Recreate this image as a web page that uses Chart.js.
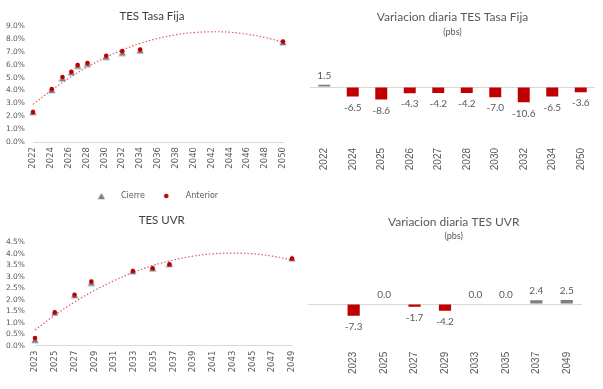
<!DOCTYPE html>
<html>
<head>
<meta charset="utf-8">
<script src="https://cdn.jsdelivr.net/npm/chart.js@4"></script>
<style>
  html, body { margin: 0; padding: 0; background: #ffffff; }
  body { width: 603px; height: 389px; position: relative; overflow: hidden; }
  canvas { position: absolute; }
</style>
</head>
<body>
<canvas id="tl" width="304" height="210" style="left:0;top:0"></canvas>
<canvas id="tr" width="303" height="200" style="left:300px;top:0"></canvas>
<canvas id="bl" width="324" height="189" style="left:0;top:200px"></canvas>
<canvas id="br" width="303" height="189" style="left:300px;top:200px"></canvas>
<script>
// ---------- data ----------
const tfYears = [2022.0, 2024.1, 2025.3, 2026.3, 2027.0, 2028.1, 2030.2, 2032.0, 2034.0, 2050.0];
const tfCierre = [2.34, 4.04, 4.95, 5.41, 5.93, 6.09, 6.62, 6.94, 7.11, 7.75];
const tfAnterior = [2.32, 4.10, 5.04, 5.45, 5.97, 6.13, 6.69, 7.05, 7.17, 7.79];
const tfTrendYears = [2022, 2024, 2026, 2028, 2030, 2032, 2034, 2036, 2038, 2040, 2042, 2044, 2046, 2048, 2050];
const tfTrend = [2.92, 3.98, 4.94, 5.79, 6.52, 7.14, 7.65, 8.04, 8.32, 8.49, 8.55, 8.52, 8.36, 8.10, 7.75];

const uvrYears = [2023.0, 2025.0, 2027.0, 2028.7, 2032.9, 2034.9, 2036.6, 2049.0];
const uvrCierre = [0.26, 1.45, 2.20, 2.75, 3.25, 3.37, 3.56, 3.81];
const uvrAnterior = [0.33, 1.45, 2.22, 2.79, 3.25, 3.37, 3.54, 3.79];
const uvrTrendYears = [2023, 2025, 2027, 2029, 2031, 2033, 2035, 2037, 2039, 2041, 2043, 2045, 2047, 2049];
const uvrTrend = [0.68, 1.33, 1.90, 2.40, 2.83, 3.20, 3.50, 3.73, 3.90, 4.00, 4.03, 4.00, 3.90, 3.73];

const tfVarCategories = ['2022', '2024', '2025', '2026', '2027', '2028', '2030', '2032', '2034', '2050'];
const tfVar = [1.5, -6.5, -8.6, -4.3, -4.2, -4.2, -7.0, -10.6, -6.5, -3.6];
const uvrVarCategories = ['', '2023', '2025', '2027', '2029', '2033', '2035', '2037', '2049'];
const uvrVar = [null, -7.3, 0.0, -1.7, -4.2, 0.0, 0.0, 2.4, 2.5];

const seriesNames = ['Cierre', 'Anterior'];
const titles = ['TES Tasa Fija', 'Variacion diaria TES Tasa Fija', 'TES UVR', 'Variacion diaria TES UVR'];
const subtitleText = '(pbs)';

// ---------- styles ----------
const RED = '#c00000';
const GRAY = '#7f7f7f';
const TREND = '#e05c5c';
const TXT = '#595959';
const AXIS = '#d9d9d9';

const zip = (xs, ys) => xs.map((x, i) => ({x: x, y: ys[i]}));

function markerImage(kind) {
  const c = document.createElement('canvas');
  if (kind === 'triangle') {
    c.width = 8; c.height = 8;
    const g = c.getContext('2d');
    g.fillStyle = GRAY;
    g.beginPath(); g.moveTo(4, 1); g.lineTo(7.6, 7.3); g.lineTo(0.4, 7.3); g.closePath(); g.fill();
  } else {
    c.width = 6; c.height = 6;
    const g = c.getContext('2d');
    g.fillStyle = RED;
    g.beginPath(); g.arc(3, 3, 2.3, 0, Math.PI * 2); g.fill();
  }
  return c;
}
const triImg = markerImage('triangle');
const dotImg = markerImage('circle');

function gapAxis(w) {
  return {
    position: 'right', display: true,
    afterFit: s => { s.width = w; },
    border: {display: false},
    grid: {display: false, drawTicks: false},
    ticks: {display: false}
  };
}

function scatterConfig(o) {
  const ds = [
    {label: seriesNames[1], data: zip(o.years, o.anterior), pointStyle: 'circle', pointRadius: 2.3,
     backgroundColor: RED, borderColor: RED, borderWidth: 0, showLine: false, order: 0, clip: false},
    {label: seriesNames[0], data: zip(o.years, o.cierre), pointStyle: triImg, pointRadius: 4,
     backgroundColor: GRAY, borderColor: GRAY, borderWidth: 0, showLine: false, order: 1, clip: false},
    {type: 'line', label: 'trend', data: zip(o.trendYears, o.trend), borderColor: TREND, borderWidth: 1.2,
     borderDash: [1.5, 2], pointRadius: 0, tension: 0.4, fill: false, order: 2, clip: false}
  ];
  return {
    type: 'scatter',
    data: {datasets: ds},
    options: {
      responsive: false, animation: false, devicePixelRatio: 1,
      layout: {padding: o.padding},
      plugins: {
        tooltip: {enabled: false},
        title: {display: true, text: o.title, color: '#404040', font: {family: 'Lato', size: 11.5, weight: 'normal'},
                padding: o.titlePad},
        legend: o.legend ? {
          display: true, position: 'bottom',
          labels: {
            usePointStyle: true, pointStyleWidth: 31, padding: 6, color: TXT,
            font: {family: 'DejaVu Sans', size: 8},
            generateLabels: () => [
              {text: seriesNames[0], pointStyle: triImg, fillStyle: GRAY, strokeStyle: GRAY, lineWidth: 0, hidden: false, datasetIndex: 1, fontColor: TXT},
              {text: seriesNames[1], pointStyle: dotImg, fillStyle: RED, strokeStyle: RED, lineWidth: 0, hidden: false, datasetIndex: 0, fontColor: TXT}
            ]
          }
        } : {display: false}
      },
      scales: {
        x: {
          type: 'linear', min: o.xmin, max: o.xmax,
          afterFit: s => { s.height = o.xh; },
          grid: {display: false, drawTicks: false},
          border: {display: true, color: AXIS, width: 1},
          ticks: {stepSize: 2, minRotation: 90, maxRotation: 90, autoSkip: false, padding: 5,
                  color: TXT, font: {family: 'DejaVu Sans', size: 8.5},
                  callback: v => String(v)}
        },
        y: {
          min: 0, max: o.ymax,
          afterFit: s => { s.width = o.yw; },
          grid: {display: false, drawTicks: false},
          border: {display: false},
          ticks: {stepSize: o.ystep, autoSkip: false, padding: o.ypad, color: TXT,
                  font: {family: 'DejaVu Sans', size: 7.5},
                  callback: v => v.toFixed(1) + '%'}
        },
        y2: gapAxis(o.rightGap)
      }
    }
  };
}

const barLabels = {
  id: 'barLabels',
  afterDatasetsDraw(chart) {
    const ctx = chart.ctx;
    const meta = chart.getDatasetMeta(0);
    const vals = chart.data.datasets[0].data;
    ctx.save();
    ctx.font = '10px Lato';
    ctx.fillStyle = TXT;
    ctx.textAlign = 'center';
    ctx.textBaseline = 'middle';
    meta.data.forEach((bar, i) => {
      const v = vals[i];
      if (v === null || v === undefined) return;
      const t = v.toFixed(1);
      if (v >= 0) ctx.fillText(t, bar.x, bar.y - 9.5);
      else ctx.fillText(t, bar.x, bar.y + 11);
    });
    ctx.restore();
  }
};

function barConfig(o) {
  const scales = {
    x: {
      type: 'category',
      afterFit: s => { s.height = 40; },
      grid: {display: false, drawTicks: false}, border: {display: false},
      ticks: {minRotation: 90, maxRotation: 90, autoSkip: false, padding: 3, color: TXT,
              font: {family: 'Liberation Sans', size: 10}}
    },
    y: {
      min: o.ymin, max: o.ymax,
      afterFit: s => { s.width = 0; },
      border: {display: false},
      grid: {drawTicks: false, lineWidth: 1, color: c => (c.tick && c.tick.value === 0 ? AXIS : 'rgba(0,0,0,0)')},
      ticks: {display: false, stepSize: 1}
    }
  };
  if (o.rightGap > 0) scales.y2 = gapAxis(o.rightGap);
  return {
    type: 'bar',
    data: {labels: o.labels, datasets: [{data: o.values,
      backgroundColor: c => (c.raw < 0 ? RED : GRAY), borderWidth: 0,
      categoryPercentage: 1, barPercentage: o.bp}]},
    plugins: [barLabels],
    options: {
      responsive: false, animation: false, devicePixelRatio: 1,
      layout: {padding: o.padding},
      plugins: {
        tooltip: {enabled: false}, legend: {display: false},
        title: {display: true, text: o.title, color: TXT, font: {family: 'Lato', size: 12, weight: 'normal'},
                padding: o.titlePad},
        subtitle: {display: true, text: subtitleText, color: TXT, font: {family: 'Lato', size: 9},
                   padding: o.subPad}
      },
      scales: scales
    }
  };
}

new Chart(document.getElementById('tl'), scatterConfig({
  years: tfYears, cierre: tfCierre, anterior: tfAnterior, trendYears: tfTrendYears, trend: tfTrend,
  title: titles[0], xmin: 2022, xmax: 2050, ymax: 9, ystep: 1,
  padding: {left: 0, right: 0, top: 0, bottom: 0}, titlePad: {top: 9.8, bottom: 2.4},
  xh: 44, yw: 33, ypad: 8, rightGap: 21, legend: true
}));

new Chart(document.getElementById('bl'), scatterConfig({
  years: uvrYears, cierre: uvrCierre, anterior: uvrAnterior, trendYears: uvrTrendYears, trend: uvrTrend,
  title: titles[2], xmin: 2023, xmax: 2049, ymax: 4.5, ystep: 0.5,
  padding: {left: 0, right: 0.6, top: 0, bottom: 3.3}, titlePad: {top: 13.1, bottom: 15.4},
  xh: 40, yw: 35, ypad: 10, rightGap: 31.4, legend: false
}));

new Chart(document.getElementById('tr'), barConfig({
  labels: tfVarCategories, values: tfVar, title: titles[1], bp: 0.42,
  ymin: -40, ymax: 30, rightGap: 0,
  padding: {left: 10, right: 8, top: 0, bottom: 15},
  titlePad: {top: 10, bottom: 0}, subPad: {top: 2, bottom: 6.3}
}));

new Chart(document.getElementById('br'), barConfig({
  labels: uvrVarCategories, values: uvrVar, title: titles[3], bp: 0.40,
  ymin: -28, ymax: 20, rightGap: 17.4,
  padding: {left: 8, right: 3.6, top: 0, bottom: 0.2},
  titlePad: {top: 14.5, bottom: 0}, subPad: {top: 1.7, bottom: 30.6}
}));
</script>
</body>
</html>
